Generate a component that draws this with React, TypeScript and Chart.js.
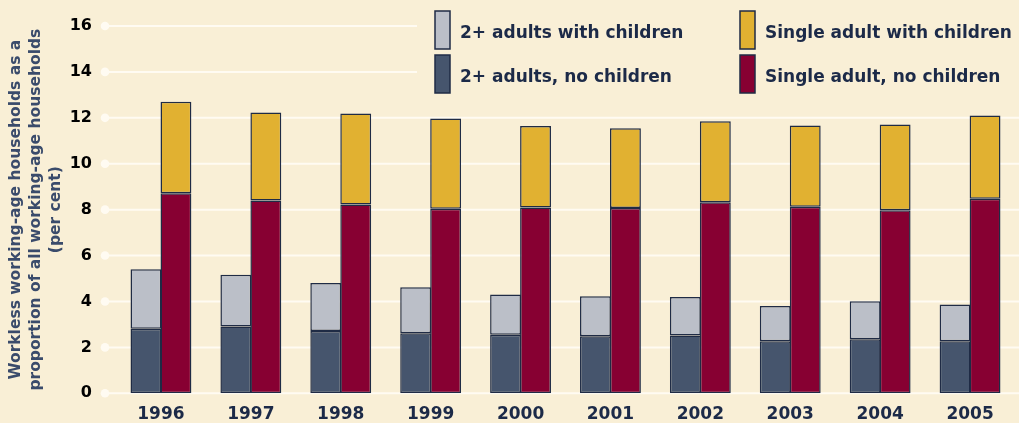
import React, { useEffect, useRef } from "react";
import { Chart, registerables } from "chart.js";

Chart.register(...registerables);

const YEARS = ["1996", "1997", "1998", "1999", "2000", "2001", "2002", "2003", "2004", "2005"];
const TWO_ADULTS_NO_CHILDREN = [2.81, 2.91, 2.71, 2.62, 2.55, 2.49, 2.52, 2.27, 2.35, 2.27];
const TWO_ADULTS_WITH_CHILDREN = [2.59, 2.25, 2.1, 2.0, 1.75, 1.74, 1.67, 1.53, 1.66, 1.6];
const SINGLE_NO_CHILDREN = [8.71, 8.4, 8.22, 8.04, 8.09, 8.07, 8.32, 8.13, 7.97, 8.48];
const SINGLE_WITH_CHILDREN = [3.99, 3.83, 3.97, 3.93, 3.55, 3.48, 3.53, 3.54, 3.74, 3.62];
const Y_MIN = 0;
const Y_MAX = 16;
const Y_STEP = 2;
const Y_TITLE = [
  "Workless working-age households as a",
  "proportion of all working-age households",
  "(per cent)",
];

const BG = "#f9efd6";
const NAVY = "#1c2a48";
const BORDER = "#1f2b45";
const C_SLATE = "#46556d";
const C_GRAY = "#bbbfc8";
const C_CRIMSON = "#870032";
const C_GOLD = "#e1b131";

const gridPlugin = {
  id: "dotGrid",
  beforeDatasetsDraw(chart: any) {
    const { ctx } = chart;
    const y = chart.scales.y;
    ctx.save();
    ctx.strokeStyle = "#fffbf2";
    ctx.fillStyle = "#fffbf2";
    ctx.lineWidth = 2;
    y.ticks.forEach((t: any) => {
      const py = y.getPixelForValue(t.value);
      ctx.beginPath();
      ctx.moveTo(105, py);
      ctx.lineTo(chart.width, py);
      ctx.stroke();
      ctx.beginPath();
      ctx.arc(105, py, 4.3, 0, Math.PI * 2);
      ctx.fill();
    });
    ctx.restore();
  },
};

const legendPlugin = {
  id: "gridLegend",
  afterDraw(chart: any) {
    const { ctx } = chart;
    const ds = chart.data.datasets;
    ctx.save();
    ctx.fillStyle = BG;
    ctx.fillRect(417, 0, chart.width - 417, 100);
    const items = [
      { d: ds[1], x: 435, y: 11 },
      { d: ds[3], x: 740, y: 11 },
      { d: ds[0], x: 435, y: 55 },
      { d: ds[2], x: 740, y: 55 },
    ];
    items.forEach(({ d, x, y }) => {
      ctx.fillStyle = d.backgroundColor;
      ctx.fillRect(x, y, 15, 38);
      ctx.strokeStyle = BORDER;
      ctx.lineWidth = 1.5;
      ctx.strokeRect(x, y, 15, 38);
      ctx.fillStyle = NAVY;
      ctx.font = 'bold 17px "DejaVu Sans"';
      ctx.textBaseline = "middle";
      ctx.textAlign = "left";
      ctx.fillText(d.label, x + 25, y + 22.5);
    });
    ctx.restore();
  },
};

export default function App() {
  const ref = useRef<HTMLCanvasElement | null>(null);
  useEffect(() => {
    if (!ref.current) return;
    Chart.defaults.font.family = '"DejaVu Sans"';
    const common = { borderColor: BORDER, borderWidth: 1.5, borderSkipped: false as any, barPercentage: 1.03, categoryPercentage: 0.667 };
    const chart = new Chart(ref.current, {
      type: "bar",
      data: {
        labels: YEARS,
        datasets: [
          { label: "2+ adults, no children", data: TWO_ADULTS_NO_CHILDREN, backgroundColor: C_SLATE, stack: "a", ...common },
          { label: "2+ adults with children", data: TWO_ADULTS_WITH_CHILDREN, backgroundColor: C_GRAY, stack: "a", ...common },
          { label: "Single adult, no children", data: SINGLE_NO_CHILDREN, backgroundColor: C_CRIMSON, stack: "b", ...common },
          { label: "Single adult with children", data: SINGLE_WITH_CHILDREN, backgroundColor: C_GOLD, stack: "b", ...common },
        ],
      },
      options: {
        animation: false,
        responsive: false,
        maintainAspectRatio: false,
        layout: { padding: { top: 26, right: 4, left: 0, bottom: 0 } },
        plugins: { legend: { display: false }, tooltip: { enabled: false } },
        scales: {
          x: {
            stacked: true,
            offset: true,
            grid: { display: false, drawTicks: false },
            border: { display: false },
            ticks: { color: NAVY, font: { size: 17, weight: "bold" }, padding: 11 },
            afterFit: (s: any) => {
              s.height = 29.7;
              s.paddingLeft = 0;
              s.paddingRight = 0;
            },
          },
          y: {
            stacked: true,
            min: Y_MIN,
            max: Y_MAX,
            grid: { display: false, drawTicks: false },
            border: { display: false },
            ticks: { stepSize: Y_STEP, color: "#000", font: { size: 16, weight: "bold" }, padding: 24 },
            title: {
              display: true,
              text: Y_TITLE,
              color: "#3a4b6b",
              font: { size: 15.5, weight: "bold", lineHeight: "20px" },
              padding: { top: 6, bottom: 0 },
            },
            afterFit: (s: any) => {
              s.width = 116;
              s.paddingTop = 0;
              s.paddingBottom = 0;
            },
          },
        },
      },
      plugins: [gridPlugin, legendPlugin],
    });
    return () => chart.destroy();
  }, []);
  return (
    <div style={{ position: "fixed", left: 0, top: 0, width: 1019, height: 423, background: BG }}>
      <canvas ref={ref} width={1019} height={423} style={{ width: 1019, height: 423, display: "block" }} />
    </div>
  );
}
